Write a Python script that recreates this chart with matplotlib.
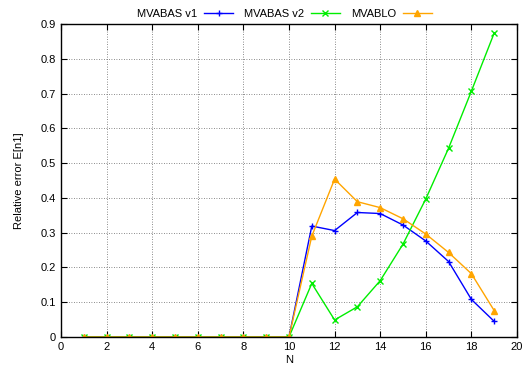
import matplotlib
matplotlib.use("Agg")
import matplotlib.pyplot as plt

N = list(range(1, 20))
mvabas_v1 = [0]*10 + [0.319, 0.306, 0.358, 0.355, 0.322, 0.276, 0.217, 0.108, 0.045]
mvabas_v2 = [0]*10 + [0.154, 0.049, 0.087, 0.162, 0.267, 0.397, 0.543, 0.707, 0.874]
mvablo = [0]*10 + [0.290, 0.454, 0.389, 0.372, 0.340, 0.296, 0.243, 0.182, 0.076]

plt.rcParams['font.family'] = ['Liberation Sans', 'DejaVu Sans']
plt.rcParams['font.size'] = 8

fig = plt.figure(figsize=(5.29, 3.73), dpi=100)
ax = fig.add_axes([0.1153, 0.0965, 0.862, 0.8392])

ax.plot(N, mvabas_v1, color='#0000ff', marker='+', ms=5, lw=1, label='MVABAS v1')
ax.plot(N, mvabas_v2, color='#00ee00', marker='x', ms=4, lw=1, label='MVABAS v2')
ax.plot(N, mvablo, color='#ffa500', marker='^', ms=4, lw=1, label='MVABLO')

ax.set_xlim(0, 20)
ax.set_ylim(0, 0.9)
ax.set_xticks(range(0, 21, 2))
ax.set_yticks([i/10 for i in range(10)])
ax.set_yticklabels(['0'] + ['%.1f' % (i/10) for i in range(1, 10)])
ax.tick_params(direction='in', top=True, right=True, length=4, width=0.8, colors='black', labelsize=8)
ax.grid(True, linestyle=(0, (1, 2)), color='#666666', lw=0.6)
for s in ax.spines.values():
    s.set_linewidth(1)
ax.set_xlabel('N', fontsize=8, labelpad=2)
ax.set_ylabel('Relative error E[n1]', fontsize=8, labelpad=12)

ax.legend(loc='lower center', bbox_to_anchor=(0.49, 0.995), ncol=3, frameon=False,
          markerfirst=False, fontsize=8, handlelength=2.6, columnspacing=1.0,
          handletextpad=0.6, borderaxespad=0.2)

fig.savefig('out.png', dpi=100)
